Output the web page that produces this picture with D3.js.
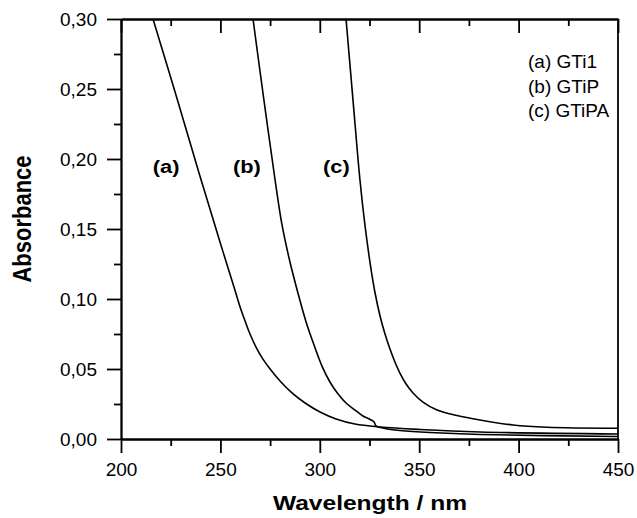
<!DOCTYPE html>
<html lang="en">
<head>
<meta charset="UTF-8">
<title>Absorbance spectra</title>
<script src="https://d3js.org/d3.v7.min.js"></script>
<style>
    body { margin: 0; background: #fff; font-family: "Liberation Sans", Arial, sans-serif; }
    .axis path, .axis line { stroke: #000; stroke-width: 1.8px; }
    .axis text { font-family: "Liberation Sans", Arial, sans-serif; font-size: 19px; fill: #000; }
    .curve { fill: none; stroke: #000; stroke-width: 1.6px; }
</style>
</head>
<body>
<div id="chart"></div>
<script>
    // curve (a) GTi1
    const wlA = [214.5, 216.1, 227.2, 239.7, 249.8, 257.3, 259.9, 262.4, 264.9, 267.9, 271.4, 275.0, 280.0, 286.0, 292.6, 300.1, 308.2, 317.7, 330.3, 350.4, 380.6, 450];
    const absA = [0.308, 0.300, 0.2479, 0.1879, 0.1407, 0.1064, 0.0943, 0.0843, 0.0750, 0.0657, 0.0571, 0.0500, 0.0414, 0.0329, 0.0257, 0.0193, 0.0143, 0.0107, 0.0086, 0.0068, 0.0050, 0.0036];
    // curve (b) GTiP
    const wlB = [265.5, 266.4, 271.9, 277.5, 281.0, 285.0, 289.0, 293.1, 297.1, 301.1, 305.1, 309.2, 313.2, 317.7, 321.7, 325.8, 327.3, 328.3, 332.8, 340.3, 355.4, 380.6, 450];
    const absB = [0.310, 0.300, 0.2421, 0.1850, 0.1529, 0.1264, 0.1043, 0.0836, 0.0671, 0.0521, 0.0407, 0.0321, 0.0257, 0.0207, 0.0164, 0.0136, 0.0121, 0.0093, 0.0075, 0.0061, 0.0046, 0.0032, 0.0018];
    // curve (c) GTiPA
    const wlC = [312.6, 313.2, 316.7, 320.2, 322.7, 325.3, 327.8, 330.3, 332.8, 335.3, 337.8, 340.3, 343.4, 346.9, 351.9, 359.0, 369.0, 380.6, 397.2, 414.3, 450];
    const absC = [0.310, 0.300, 0.2421, 0.1850, 0.1529, 0.1257, 0.1043, 0.0879, 0.0750, 0.0643, 0.0550, 0.0471, 0.0393, 0.0329, 0.0264, 0.0207, 0.0168, 0.0136, 0.0100, 0.0084, 0.0077];

    const seriesNames = ["(a) GTi1", "(b) GTiP", "(c) GTiPA"];
    const curveTags = ["(a)", "(b)", "(c)"];
    const tagWl = [216, 256.3, 301.6];
    const tagAbs = 0.19;

    const xMajor = [200, 250, 300, 350, 400, 450];
    const xMinor = [225, 275, 325, 375, 425];
    const yMajor = [0, 0.05, 0.10, 0.15, 0.20, 0.25, 0.30];
    const yMinor = [0.025, 0.075, 0.125, 0.175, 0.225, 0.275];

    const width = 637, height = 518;
    const plotL = 121, plotR = 618, plotT = 19, plotB = 439;

    const x = d3.scaleLinear().domain([200, 450]).range([plotL, plotR]);
    const y = d3.scaleLinear().domain([0, 0.30]).range([plotB, plotT]);

    const comma = d3.formatLocale({decimal: ",", thousands: ".", grouping: [3], currency: ["", ""]}).format(".2f");

    const svg = d3.select("#chart").append("svg")
        .attr("width", width)
        .attr("height", height);

    svg.append("clipPath").attr("id", "clip")
        .append("rect")
        .attr("x", plotL).attr("y", plotT)
        .attr("width", plotR - plotL).attr("height", plotB - plotT);

    // curves
    const line = d3.line().x(d => x(d[0])).y(d => y(d[1])).curve(d3.curveCatmullRom.alpha(0.5));
    [[wlA, absA], [wlB, absB], [wlC, absC]].forEach(([wl, ab]) => {
        svg.append("path")
            .attr("class", "curve")
            .attr("clip-path", "url(#clip)")
            .attr("d", line(wl.map((w, i) => [w, ab[i]])));
    });

    // axes
    svg.append("g").attr("class", "axis")
        .attr("transform", `translate(0,${plotB})`)
        .call(d3.axisBottom(x).tickValues(xMajor).tickSize(14).tickPadding(10).tickSizeOuter(0));
    svg.append("g").attr("class", "axis")
        .attr("transform", `translate(0,${plotB})`)
        .call(d3.axisBottom(x).tickValues(xMinor).tickSize(7).tickFormat("").tickSizeOuter(0));

    svg.append("g").attr("class", "axis")
        .attr("transform", `translate(${plotL},0)`)
        .call(d3.axisLeft(y).tickValues(yMajor).tickSize(14).tickPadding(10).tickFormat(comma).tickSizeOuter(0));
    svg.append("g").attr("class", "axis")
        .attr("transform", `translate(${plotL},0)`)
        .call(d3.axisLeft(y).tickValues(yMinor).tickSize(7).tickFormat("").tickSizeOuter(0));

    svg.append("g").attr("class", "axis")
        .attr("transform", `translate(0,${plotT})`)
        .call(d3.axisTop(x).tickValues(xMajor).tickSize(-14).tickFormat("").tickSizeOuter(0));
    svg.append("g").attr("class", "axis")
        .attr("transform", `translate(0,${plotT})`)
        .call(d3.axisTop(x).tickValues(xMinor).tickSize(-7).tickFormat("").tickSizeOuter(0));

    svg.append("line")
        .attr("x1", plotR).attr("x2", plotR)
        .attr("y1", plotT).attr("y2", plotB)
        .attr("stroke", "#000").attr("stroke-width", 1.8);

    // axis titles
    svg.append("text")
        .attr("transform", `translate(370,510) scale(1.17,1)`)
        .attr("text-anchor", "middle")
        .style("font-size", "21px").style("font-weight", "bold")
        .text("Wavelength / nm");

    svg.append("text")
        .attr("transform", `translate(31,219) scale(1.18,1) rotate(-90)`)
        .attr("text-anchor", "middle")
        .style("font-size", "22px").style("font-weight", "bold")
        .text("Absorbance");

    // curve tags
    curveTags.forEach((t, i) => {
        svg.append("text")
            .attr("transform", `translate(${x(tagWl[i])},${y(tagAbs)}) scale(1.15,1)`)
            .style("font-size", "19px").style("font-weight", "bold")
            .text(t);
    });

    // legend
    seriesNames.forEach((s, i) => {
        svg.append("text")
            .attr("x", 528)
            .attr("y", 68 + i * 24.5)
            .style("font-size", "19px")
            .text(s);
    });
</script>
</body>
</html>
